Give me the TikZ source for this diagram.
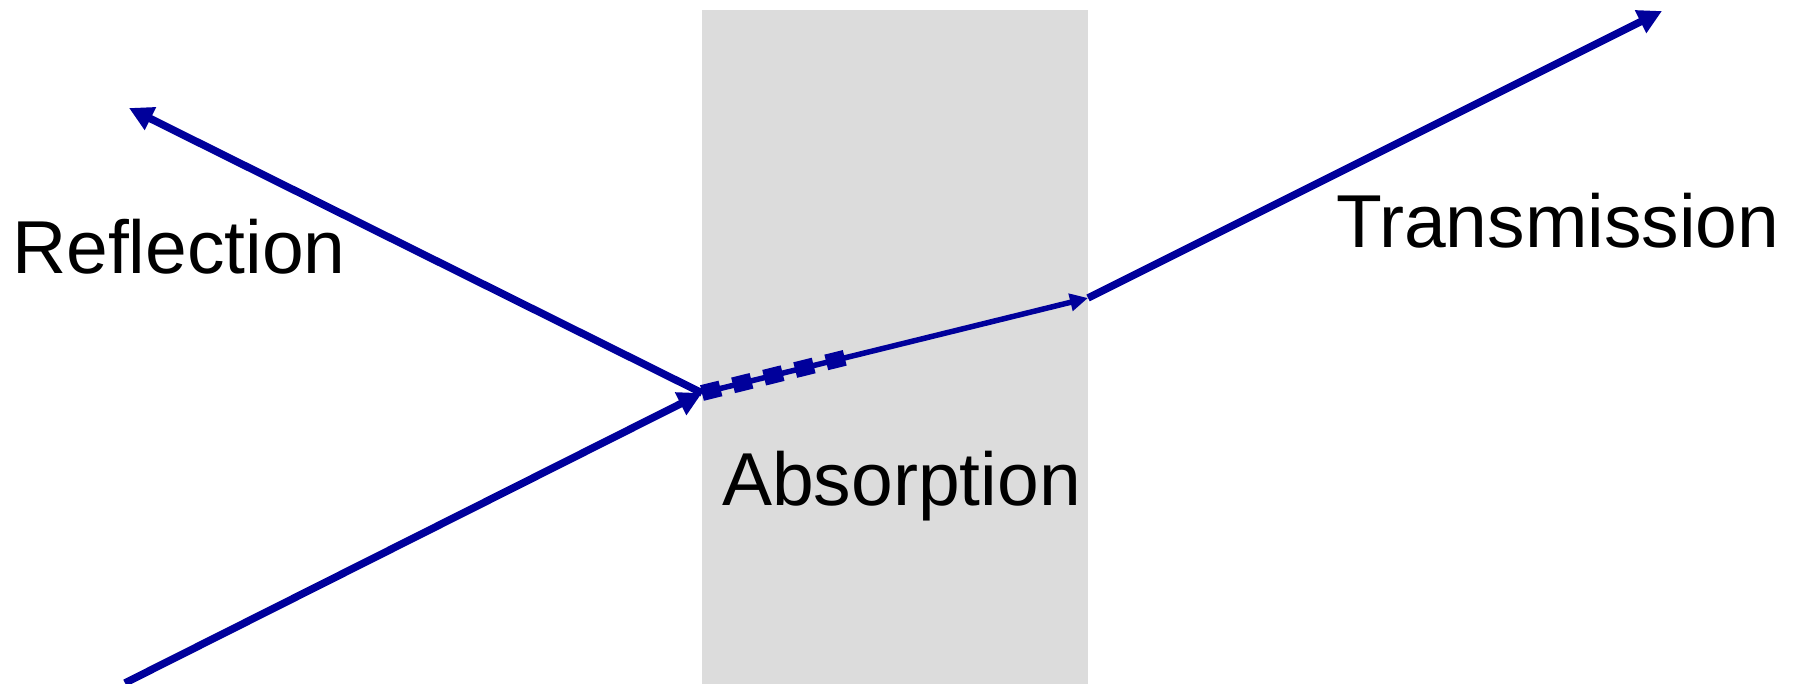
\documentclass[tikz,border=0pt]{standalone}
\usepackage{fontspec}
\setmainfont{Liberation Sans}
\usetikzlibrary{arrows.meta,calc}
\definecolor{ray}{RGB}{0,0,155}
\definecolor{slabgray}{RGB}{220,220,220}
\tikzset{
  outer/.style={draw=ray, line width=7.5pt, -{Triangle[length=24pt,width=24pt]}},
  inner/.style={draw=ray, line width=5.5pt, -{Triangle[length=18pt,width=17pt]}},
  absorb/.style={draw=ray, line width=16pt, dash pattern=on 19pt off 13pt},
  lbl/.style={inner sep=0pt, anchor=base west, font=\fontsize{75}{82}\selectfont}
}
\begin{document}
\begin{tikzpicture}[x=1pt,y=-1pt]
  \useasboundingbox (0,0) rectangle (1797,684);
  \fill[slabgray] (702,10) rectangle (1088,690);
  \coordinate (src) at (125,683);
  \coordinate (hit) at (702,393);
  \coordinate (refl) at (129,108);
  \coordinate (exit) at (1088,298);
  \coordinate (trans) at (1662,11);
  \coordinate (absend) at ($(hit)!0.37!(exit)$);
  \draw[outer] (src) -- (hit);
  \draw[outer] (hit) -- (refl);
  \draw[inner] (hit) -- (exit);
  \draw[absorb] (hit) -- (absend);
  \draw[outer] (exit) -- (trans);
  \node[lbl] (reflection) at (12,274) {Reflection};
  \node[lbl] (transmission) at (1336,248) {Transmission};
  \node[lbl] (absorption) at (722,505) {Absorption};
\end{tikzpicture}
\end{document}
